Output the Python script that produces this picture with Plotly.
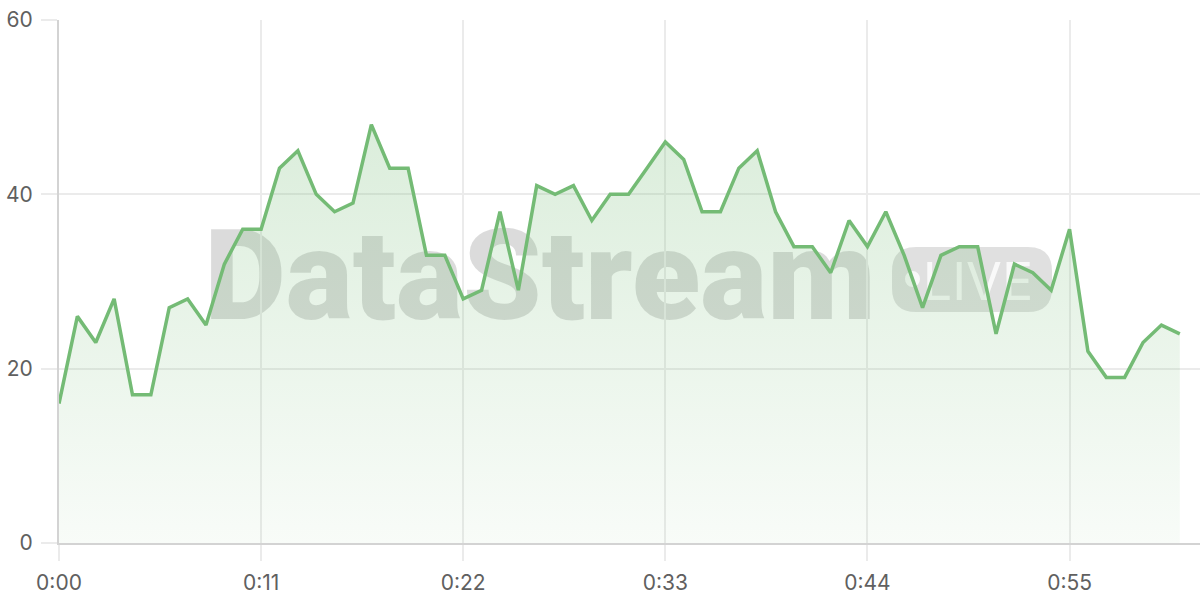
import plotly.graph_objects as go

# ---- data ----
seconds = list(range(62))
values = [16, 26, 23, 28, 17, 17, 27, 28, 25, 32, 36, 36, 43, 45, 40, 38, 39, 48, 43, 43,
          33, 33, 28, 29, 38, 29, 41, 40, 41, 37, 40, 40, 43, 46, 44, 38, 38, 43, 45, 38,
          34, 34, 31, 37, 34, 38, 33, 27, 33, 34, 34, 24, 32, 31, 29, 36, 22, 19, 19, 23,
          25, 24]
x_tick_vals = [0, 11, 22, 33, 44, 55]
x_tick_text = ["0:00", "0:11", "0:22", "0:33", "0:44", "0:55"]
y_tick_vals = [0, 20, 40, 60]

# ---- layout geometry (pixels) ----
W, H = 1200, 600
ML, MR, MT, MB = 59, 0, 20, 57
PW, PH = W - ML - MR, H - MT - MB


def px(x):
    return (x - ML) / PW


def py(y):
    return (H - MB - y) / PH


def rounded_rect(x0, y0, x1, y1, r):
    a0, a1 = px(x0), px(x1)
    b0, b1 = py(y1), py(y0)
    rx, ry = r / PW, r / PH
    return (f"M {a0+rx},{b0} L {a1-rx},{b0} Q {a1},{b0} {a1},{b0+ry} "
            f"L {a1},{b1-ry} Q {a1},{b1} {a1-rx},{b1} L {a0+rx},{b1} "
            f"Q {a0},{b1} {a0},{b1-ry} L {a0},{b0+ry} Q {a0},{b0} {a0+rx},{b0} Z")


LINE = "#74bb75"

fig = go.Figure()
fig.add_trace(go.Scatter(
    x=seconds, y=values, mode="lines",
    line=dict(color=LINE, width=3.5),
    fill="tozeroy",
    fillgradient=dict(type="vertical", start=0, stop=max(values),
                      colorscale=[[0, "rgba(116,187,117,0.05)"],
                                  [1, "rgba(116,187,117,0.26)"]]),
    hoverinfo="skip", showlegend=False,
))

shapes = [
    # DataStream watermark
    dict(type="rect", xref="paper", yref="paper",
         x0=px(210), x1=px(870), y0=py(324), y1=py(210),
         fillcolor="rgba(0,0,0,0)", line=dict(width=0), layer="between",
         label=dict(text="DataStream", textposition="middle center",
                    font=dict(family="Roboto", size=126, weight=900,
                              color="rgba(0,0,0,0.14)"))),
    # LIVE pill
    dict(type="path", xref="paper", yref="paper",
         path=rounded_rect(892, 247, 1052, 312, 24),
         fillcolor="rgba(0,0,0,0.12)", line=dict(width=0), layer="between"),
    dict(type="circle", xref="paper", yref="paper",
         x0=px(905), x1=px(920), y0=py(287), y1=py(271),
         fillcolor="rgba(255,255,255,0.8)", line=dict(width=0), layer="between"),
    dict(type="rect", xref="paper", yref="paper",
         x0=px(916), x1=px(1040), y0=py(300), y1=py(258),
         fillcolor="rgba(0,0,0,0)", line=dict(width=0), layer="between",
         label=dict(text="LIVE", textposition="middle center",
                    font=dict(family="Inter", size=52,
                              color="rgba(255,255,255,0.8)"))),
]

fig.update_layout(
    width=W, height=H,
    margin=dict(l=ML, r=MR, t=MT, b=MB, autoexpand=False),
    paper_bgcolor="white", plot_bgcolor="white",
    font=dict(family="Inter", size=21, color="#606060"),
    shapes=shapes,
    showlegend=False,
)
fig.update_xaxes(
    range=[0, 62.1], tickvals=x_tick_vals, ticktext=x_tick_text,
    showgrid=True, gridcolor="#ebebeb", gridwidth=1.5,
    ticks="outside", ticklen=16, tickcolor="#ebebeb", tickwidth=1.5,
    showline=True, linecolor="#d3d3d3", linewidth=2,
    zeroline=False, ticklabelstandoff=4, automargin=False,
)
fig.update_yaxes(
    range=[0, 60], tickvals=y_tick_vals,
    showgrid=True, gridcolor="#ebebeb", gridwidth=1.5,
    ticks="outside", ticklen=16, tickcolor="#ebebeb", tickwidth=1.5,
    showline=True, linecolor="#d3d3d3", linewidth=2,
    zeroline=False, ticklabelstandoff=4, automargin=False,
)

fig.write_html("out.html", config={"displayModeBar": False},
               post_script="document.body.style.margin='0';")
